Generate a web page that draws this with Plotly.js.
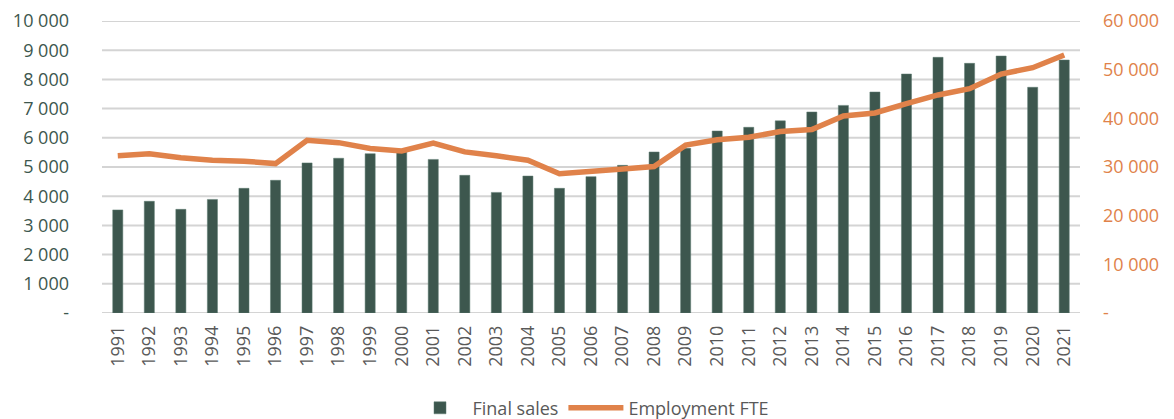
<!DOCTYPE html>
<html>
<head>
<meta charset="utf-8">
<script src="https://cdn.plot.ly/plotly-3.0.1.min.js"></script>
<style>html,body{margin:0;padding:0;background:#fff;}#chart{width:1174px;height:419px;}</style>
</head>
<body>
<div id="chart"></div>
<script>
const years = ["1991","1992","1993","1994","1995","1996","1997","1998","1999","2000","2001","2002","2003","2004","2005","2006","2007","2008","2009","2010","2011","2012","2013","2014","2015","2016","2017","2018","2019","2020","2021"];
const finalSales = [3530,3825,3550,3890,4270,4545,5140,5300,5456,5540,5260,4715,4130,4690,4270,4670,5057,5514,5640,6233,6360,6580,6884,7110,7568,8185,8756,8550,8801,7730,8664];
const employmentFTE = [32300,32700,31900,31400,31200,30700,35500,35000,33800,33300,34900,33100,32300,31400,28600,29000,29600,30100,34500,35600,36100,37300,37700,40500,41100,43000,44800,46100,49100,50400,53000];
const leftTicks = [0,1000,2000,3000,4000,5000,6000,7000,8000,9000,10000];
const leftTickText = ["-","1 000","2 000","3 000","4 000","5 000","6 000","7 000","8 000","9 000","10 000"];
const rightTicks = [0,10000,20000,30000,40000,50000,60000];
const rightTickText = ["-","10 000","20 000","30 000","40 000","50 000","60 000"];

const green = "#3d574e", orange = "#e0824a", gray = "#595959", grid = "#d4d4d4";
const fontFam = "Open Sans, sans-serif";

const gridShapes = leftTicks.map(v => ({type:"line", xref:"paper", x0:0, x1:1, yref:"y", y0:v, y1:v, layer:"below", line:{color:grid, width:2}}));

const data = [
  {type:"bar", name:"Final sales", x:years, y:finalSales, marker:{color:green, line:{color:"#5c7a70", width:0.5}}, yaxis:"y"},
  {type:"scatter", mode:"lines", name:"Employment FTE", x:years, y:employmentFTE, line:{color:orange, width:5.5}, yaxis:"y2"}
];
const layout = {
  width:1174, height:419,
  margin:{l:102, r:94, t:21, b:106},
  paper_bgcolor:"#fff", plot_bgcolor:"rgba(0,0,0,0)",
  font:{family:fontFam, size:18, color:gray},
  bargap:0.68,
  showlegend:true,
  shapes:gridShapes,
  legend:{orientation:"h", x:0.5, xanchor:"center", yref:"container", y:0.026, yanchor:"middle", font:{size:18, color:gray}, itemwidth:55, tracegroupgap:0},
  xaxis:{type:"category", tickangle:-90, ticks:"", ticklabelstandoff:8, tickfont:{size:18, color:gray}, showgrid:false, showline:false, zeroline:false},
  yaxis:{range:[0,10000], tickvals:leftTicks, ticktext:leftTickText, tickfont:{size:18, color:green}, showgrid:false, zeroline:false, showline:false, ticks:"", ticklabelstandoff:32},
  yaxis2:{range:[0,60000], overlaying:"y", side:"right", tickvals:rightTicks, ticktext:rightTickText, tickfont:{size:18, color:orange}, showgrid:false, zeroline:false, showline:false, ticks:"", ticklabelstandoff:22}
};
Plotly.newPlot("chart", data, layout, {displayModeBar:false, staticPlot:true});
</script>
</body>
</html>
